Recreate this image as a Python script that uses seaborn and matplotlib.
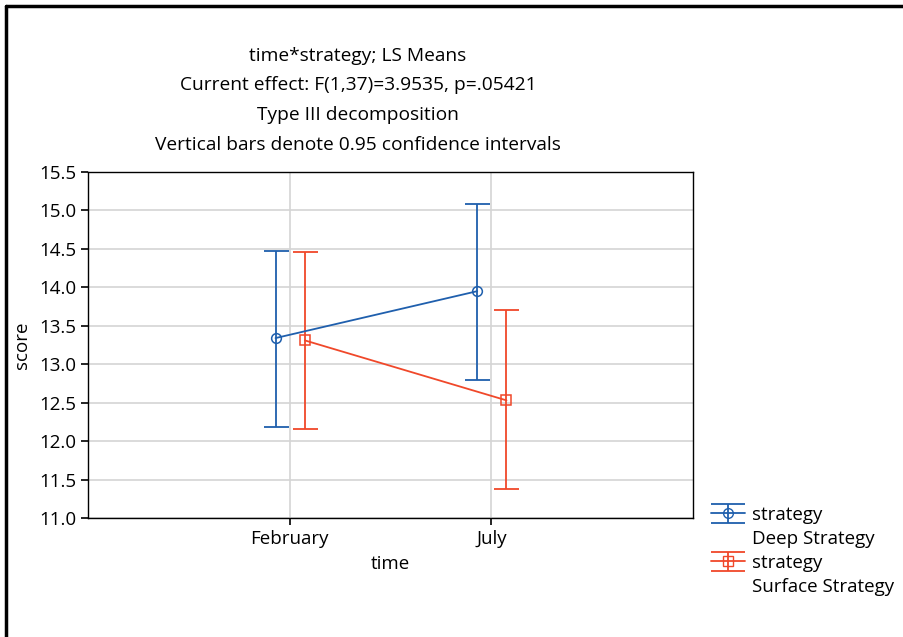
import numpy as np
import pandas as pd
import matplotlib
matplotlib.use("Agg")
import matplotlib.pyplot as plt
import seaborn as sns
from matplotlib.lines import Line2D

times = ["February", "July"]
strategies = ["Deep Strategy", "Surface Strategy"]
deep_mean = [13.34, 13.95]
deep_lo = [12.18, 12.79]
deep_hi = [14.47, 15.08]
surf_mean = [13.31, 12.53]
surf_lo = [12.16, 11.38]
surf_hi = [14.46, 13.70]

colors = {"Deep Strategy": "#1f5fad", "Surface Strategy": "#f0482a"}
markers = {"Deep Strategy": "o", "Surface Strategy": "s"}
offsets = {"Deep Strategy": -0.07, "Surface Strategy": 0.075}

df = pd.DataFrame({
    "time": times * 2,
    "strategy": [strategies[0]] * 2 + [strategies[1]] * 2,
    "score": deep_mean + surf_mean,
    "lo": deep_lo + surf_lo,
    "hi": deep_hi + surf_hi,
})
df["t"] = df["time"].map({t: i for i, t in enumerate(times)})
df["x"] = df["t"] + df["strategy"].map(offsets)

sns.set_style("white")
plt.rcParams["font.family"] = ["Open Sans", "DejaVu Sans"]
plt.rcParams["font.size"] = 13.5
plt.rcParams["text.color"] = "black"
plt.rcParams["axes.labelcolor"] = "black"

fig = plt.figure(figsize=(9.04, 6.37), dpi=100)
ax = fig.add_axes([88 / 904, 1 - 518 / 637, 605 / 904, 346 / 637])

handles, labels = [], []
blank = Line2D([], [], color="none")
for s in strategies:
    d = df[df["strategy"] == s]
    c = colors[s]
    ax.errorbar(d["x"], d["score"], yerr=[d["score"] - d["lo"], d["hi"] - d["score"]],
                fmt="none", ecolor=c, elinewidth=1.3, capsize=9, capthick=1.3, zorder=3)
    sns.lineplot(data=d, x="x", y="score", color=c, marker=markers[s], markersize=7,
                 markerfacecolor="none", markeredgecolor=c, markeredgewidth=1.1,
                 linewidth=1.3, ax=ax, legend=False, zorder=4)
    h = ax.errorbar([np.nan], [np.nan], yerr=[1], fmt="-" + markers[s], color=c, mfc="none",
                    mec=c, ms=7, capsize=12, capthick=1.3, elinewidth=1.3, lw=1.3)
    handles += [h, blank]
    labels += ["strategy", s]

ax.set_xlim(-1, 2)
ax.set_ylim(11.0, 15.5)
ax.set_xticks(range(len(times)))
ax.set_xticklabels(times)
ax.set_yticks(np.arange(11.0, 15.51, 0.5))
ax.set_yticklabels([f"{v:.1f}" for v in np.arange(11.0, 15.51, 0.5)])
ax.grid(True, color="#d4d4d4", linewidth=1.2)
ax.set_axisbelow(True)
for sp in ax.spines.values():
    sp.set_color("black")
    sp.set_linewidth(1.0)
ax.tick_params(axis="both", direction="out", length=5, width=1.2, colors="black",
               labelsize=13.5, left=True, bottom=True)
ax.set_xlabel("time", fontsize=13.5, labelpad=5)
ax.set_ylabel("score", fontsize=13.5, labelpad=6)

title_lines = ["time*strategy; LS Means",
               "Current effect: F(1,37)=3.9535, p=.05421",
               "Type III decomposition",
               "Vertical bars denote 0.95 confidence intervals"]
for i, line in enumerate(title_lines):
    fig.text(358 / 904, 1 - (56 + 29.5 * i) / 637, line, ha="center", va="center", fontsize=13.8)

fig.legend(handles, labels, loc="upper left",
           bbox_to_anchor=(711 / 904, 1 - 506 / 637), frameon=False, fontsize=13.5,
           handlelength=1.8, handletextpad=0.4, labelspacing=0.32, borderpad=0,
           borderaxespad=0)

# frame lines around the figure (top and left)
fig.add_artist(Line2D([6 / 904, 6 / 904], [0, 1 - 6 / 637], color="black", lw=2.5, transform=fig.transFigure))
fig.add_artist(Line2D([6 / 904, 1], [1 - 6 / 637, 1 - 6 / 637], color="black", lw=2.5, transform=fig.transFigure))

fig.savefig("out.png", dpi=100)
